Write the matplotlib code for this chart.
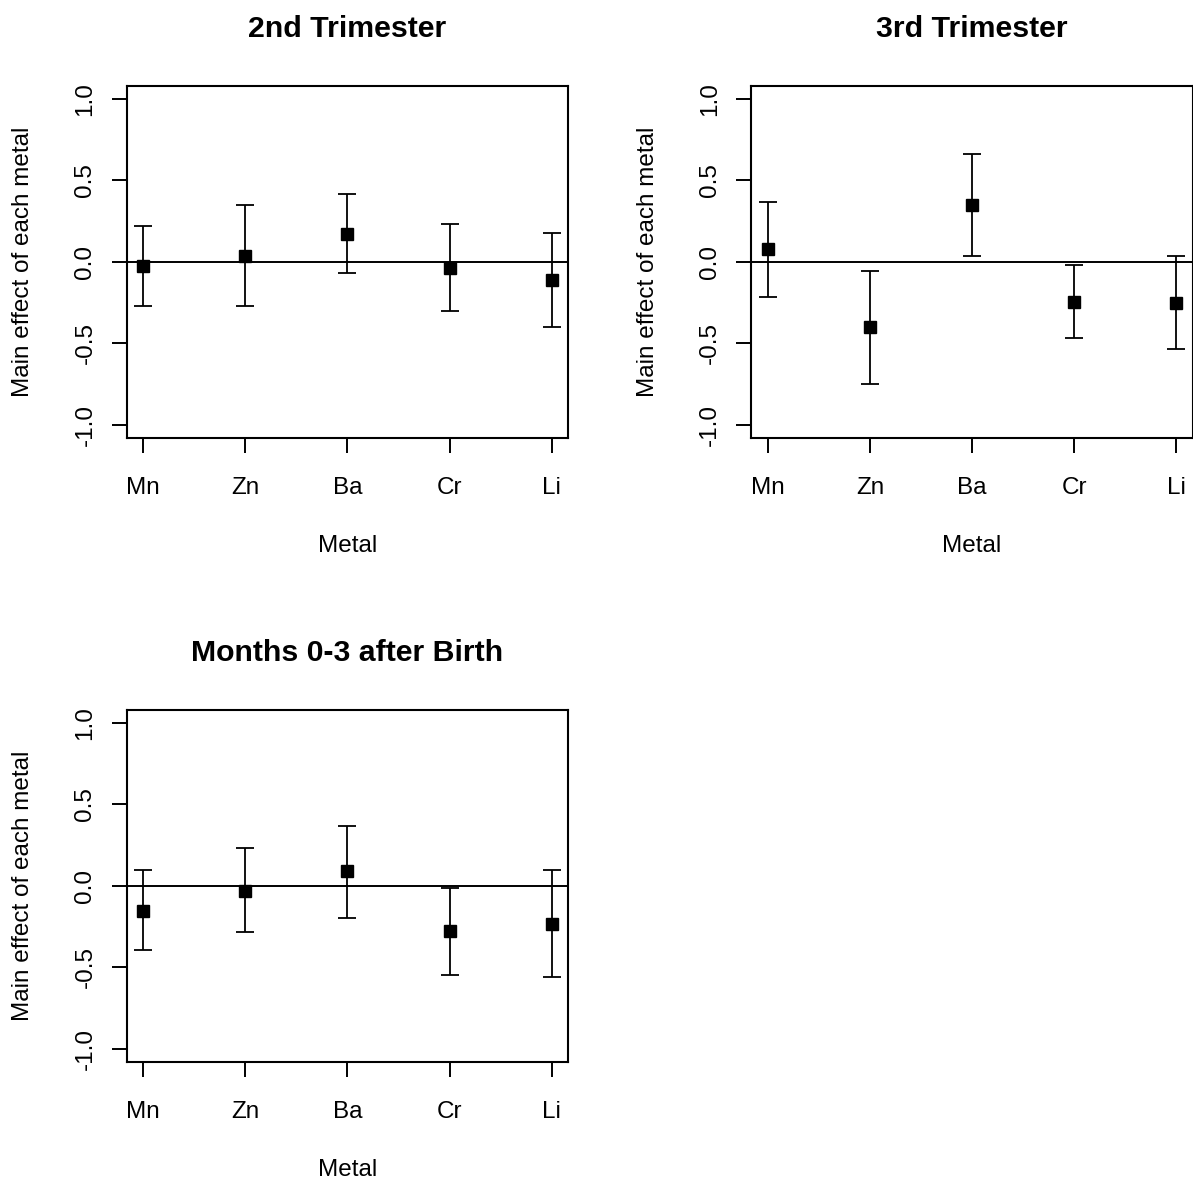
import matplotlib
matplotlib.use("Agg")
import matplotlib.pyplot as plt
import numpy as np

plt.rcParams['font.family'] = ['Liberation Sans', 'DejaVu Sans']

metals = ["Mn", "Zn", "Ba", "Cr", "Li"]
titles = ["2nd Trimester", "3rd Trimester", "Months 0-3 after Birth"]

est_2nd = [-0.025, 0.035, 0.17, -0.035, -0.11]
low_2nd = [-0.27, -0.27, -0.07, -0.30, -0.40]
up_2nd = [0.22, 0.35, 0.415, 0.235, 0.18]

est_3rd = [0.08, -0.40, 0.35, -0.245, -0.25]
low_3rd = [-0.215, -0.75, 0.035, -0.47, -0.535]
up_3rd = [0.37, -0.055, 0.66, -0.02, 0.035]

est_post = [-0.155, -0.03, 0.09, -0.275, -0.235]
low_post = [-0.395, -0.285, -0.195, -0.545, -0.56]
up_post = [0.095, 0.235, 0.365, -0.012, 0.10]

yticks = [-1.0, -0.5, 0.0, 0.5, 1.0]
ytick_labels = ["-1.0", "-0.5", "0.0", "0.5", "1.0"]

W, H = 1193, 1179
fig = plt.figure(figsize=(W / 100, H / 100), dpi=100)

aw = 441.3 / W
ah = 351.7 / H
positions = [
    (126.7 / W, 1 - 437.7 / H, aw, ah),
    (751.4 / W, 1 - 437.7 / H, aw, ah),
    (126.7 / W, 1 - 1061.7 / H, aw, ah),
]
data = [
    (est_2nd, low_2nd, up_2nd),
    (est_3rd, low_3rd, up_3rd),
    (est_post, low_post, up_post),
]

for pos, title, (est, low, up) in zip(positions, titles, data):
    ax = fig.add_axes(pos)
    x = np.arange(1, len(metals) + 1)
    est_a = np.array(est)
    yerr = np.vstack([est_a - np.array(low), np.array(up) - est_a])
    ax.axhline(0, color="black", lw=1.4, zorder=1)
    ax.errorbar(x, est_a, yerr=yerr, fmt="s", color="black", ecolor="black",
                elinewidth=1.3, capsize=6.5, capthick=1.3, markersize=8.5, zorder=3)
    ax.set_xlim(0.84, 5.16)
    ax.set_ylim(-1.08, 1.08)
    ax.set_xticks(x)
    ax.set_xticklabels(metals)
    ax.set_yticks(yticks)
    ax.set_yticklabels(ytick_labels, rotation=90, va="center")
    ax.tick_params(axis="x", length=10.8, width=1.4, labelsize=17.5, pad=17.5)
    ax.tick_params(axis="y", length=10.8, width=1.4, labelsize=17.5, pad=11)
    for s in ax.spines.values():
        s.set_linewidth(1.5)
    ax.set_xlabel("Metal", fontsize=17.5, labelpad=26)
    ax.set_ylabel("Main effect of each metal", fontsize=17.5, labelpad=29)
    ax.set_title(title, fontsize=21.8, fontweight="bold", pad=35)

fig.savefig("out.png", dpi=100)
